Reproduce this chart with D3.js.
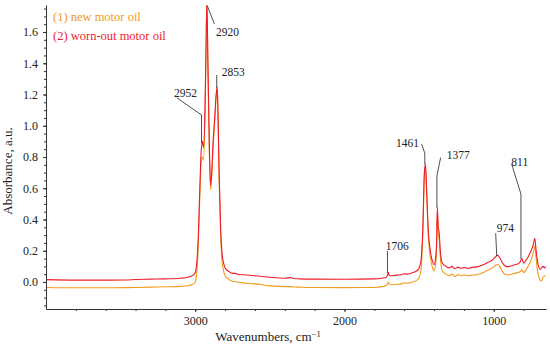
<!DOCTYPE html>
<html>
<head>
<meta charset="utf-8">
<script src="https://cdn.jsdelivr.net/npm/d3@7"></script>
<style>
  body { margin: 0; background: #fff; }
  svg text { font-family: "Liberation Serif", "Times New Roman", serif; fill: #222; }
  .axis path, .axis line { stroke: #333; }
</style>
</head>
<body>
<svg id="chart" width="550" height="347"></svg>
<script>
// wavenumbers (cm-1) shared by both spectra
const wavenumbers = [4000,3800,3600,3466,3400,3300,3200,3100,3050,3020,3000,2990,2980,2970,2960,2952,2945,2935,2928,2922,2915,2905,2897,2890,2880,2870,2860,2853,2848,2840,2830,2820,2810,2800,2780,2750,2730,2710,2680,2600,2500,2400,2360,2340,2300,2200,2000,1800,1750,1720,1712,1706,1700,1680,1650,1620,1600,1580,1550,1510,1490,1475,1465,1458,1450,1440,1425,1410,1400,1390,1383,1378,1372,1366,1358,1345,1320,1300,1280,1260,1240,1220,1200,1170,1150,1100,1070,1040,1010,990,974,960,940,920,900,880,860,840,825,811,800,790,770,750,735,725,718,710,700,690,680,670,660,650];

// (1) new motor oil
const newOil = [-0.035,-0.037,-0.037,-0.036,-0.035,-0.033,-0.031,-0.028,-0.024,-0.016,0.000,0.060,0.230,0.530,0.770,0.800,0.780,1.050,1.450,1.790,1.350,0.800,0.590,0.670,0.870,1.020,1.180,1.240,1.080,0.660,0.300,0.130,0.070,0.040,0.020,0.005,0.002,-0.002,-0.006,-0.012,-0.025,-0.030,-0.030,-0.032,-0.033,-0.035,-0.036,-0.035,-0.030,-0.022,-0.012,0.000,-0.015,-0.018,-0.015,-0.012,-0.006,-0.008,-0.002,0.015,0.060,0.320,0.680,0.735,0.580,0.320,0.160,0.090,0.070,0.110,0.220,0.440,0.310,0.280,0.160,0.070,0.050,0.040,0.050,0.035,0.048,0.040,0.045,0.040,0.042,0.050,0.060,0.075,0.090,0.105,0.112,0.100,0.065,0.048,0.045,0.050,0.055,0.060,0.065,0.078,0.060,0.070,0.100,0.140,0.190,0.230,0.170,0.090,0.040,0.012,0.006,0.030,0.040,0.035];

// (2) worn-out motor oil
const wornOil = [0.015,0.012,0.012,0.013,0.016,0.018,0.020,0.024,0.030,0.040,0.060,0.120,0.280,0.580,0.840,0.900,0.860,1.100,1.500,1.790,1.400,0.850,0.620,0.700,0.900,1.050,1.200,1.250,1.100,0.700,0.350,0.180,0.120,0.090,0.070,0.055,0.055,0.048,0.046,0.040,0.030,0.024,0.028,0.022,0.020,0.018,0.017,0.020,0.024,0.030,0.045,0.062,0.040,0.040,0.044,0.046,0.052,0.050,0.058,0.075,0.120,0.350,0.700,0.755,0.600,0.350,0.200,0.130,0.110,0.150,0.250,0.480,0.350,0.320,0.200,0.120,0.100,0.090,0.100,0.085,0.095,0.088,0.092,0.088,0.092,0.100,0.110,0.125,0.140,0.160,0.170,0.155,0.120,0.100,0.098,0.104,0.110,0.115,0.125,0.150,0.120,0.130,0.160,0.200,0.240,0.280,0.220,0.150,0.100,0.080,0.090,0.100,0.090,0.100];

const seriesNames = ["(1) new motor oil", "(2) worn-out motor oil"];
const seriesColors = ["#f29a1c", "#ee1c2a"];

const yTicks = [0, 0.2, 0.4, 0.6, 0.8, 1.0, 1.2, 1.4, 1.6];
const xTicks = [3000, 2000, 1000];

// peak labels: text, label anchor [wn, abs], leader points [wn, abs]
const peakLabels = ["2952", "2920", "2853", "1706", "1461", "1377", "974", "811"];
const labelAnchors = [[3142, 1.184], [2861, 1.575], [2823, 1.319], [1724, 0.205], [1501, 0.866], [1315, 0.787], [980, 0.318], [882, 0.745]];
const labelAlign = ["start", "start", "start", "start", "end", "start", "start", "start"];
const leaders = [
  [[3122, 1.178], [2958, 1.069], [2958, 0.89]],
  [[2919, 1.767], [2872, 1.652]],
  [[2856, 1.325], [2856, 1.242]],
  [[1712, 0.198], [1712, 0.058]],
  [[1483, 0.882], [1462, 0.824], [1462, 0.752]],
  [[1356, 0.796], [1381, 0.679], [1381, 0.476]],
  [[987, 0.312], [980, 0.166]],
  [[880, 0.754], [818, 0.563], [818, 0.148]]
];

const mLeft = 46, mRight = 546, mTop = 5, mBottom = 309;

const svg = d3.select("#chart");

const x = d3.scaleLinear().domain([4000, 650]).range([mLeft, mRight]);
const y = d3.scaleLinear().domain([-0.173, 1.773]).range([mBottom, mTop]);

svg.append("clipPath").attr("id", "plot-clip")
  .append("rect")
  .attr("x", mLeft).attr("y", mTop)
  .attr("width", mRight - mLeft).attr("height", mBottom - mTop);

const line = d3.line()
  .x(d => x(d[0]))
  .y(d => y(d[1]))
  .curve(d3.curveMonotoneX);

[newOil, wornOil].forEach((vals, i) => {
  svg.append("path")
    .datum(wavenumbers.map((w, j) => [w, vals[j]]))
    .attr("clip-path", "url(#plot-clip)")
    .attr("fill", "none")
    .attr("stroke", seriesColors[i])
    .attr("stroke-width", 1.1)
    .attr("d", line);
});

// x axis: major ticks + minor every 200
const xMinor = d3.range(3800, 650, -200);
svg.append("g").attr("class", "axis")
  .attr("transform", `translate(0,${mBottom})`)
  .call(d3.axisBottom(x).tickValues(xMinor).tickSize(2).tickFormat(""))
  .call(g => g.select(".domain").remove());
svg.append("g").attr("class", "axis")
  .attr("transform", `translate(0,${mBottom})`)
  .call(d3.axisBottom(x).tickValues(xTicks).tickSize(3).tickSizeOuter(0).tickPadding(4).tickFormat(d3.format("d")))
  .call(g => g.selectAll("text").style("font-size", "12px").attr("fill", "#222"));

// y axis: major ticks + minor every 0.05
const yMinor = d3.range(-0.15, 1.76, 0.05);
svg.append("g").attr("class", "axis")
  .attr("transform", `translate(${mLeft},0)`)
  .call(d3.axisLeft(y).tickValues(yMinor).tickSize(2).tickFormat(""))
  .call(g => g.select(".domain").remove());
svg.append("g").attr("class", "axis")
  .attr("transform", `translate(${mLeft},0)`)
  .call(d3.axisLeft(y).tickValues(yTicks).tickSize(3).tickSizeOuter(0).tickPadding(5).tickFormat(d3.format(".1f")))
  .call(g => g.selectAll("text").style("font-size", "12px").attr("fill", "#222"));

// axis titles
const xt = svg.append("text")
  .attr("x", 268).attr("y", 341)
  .attr("text-anchor", "middle")
  .style("font-size", "13px")
  .text("Wavenumbers, cm");
xt.append("tspan").attr("dy", -4).style("font-size", "8.5px").text("−1");

svg.append("text")
  .attr("transform", "translate(12,171) rotate(-90)")
  .attr("text-anchor", "middle")
  .style("font-size", "13px")
  .text("Absorbance, a.u.");

// legend
seriesNames.forEach((name, i) => {
  svg.append("text")
    .attr("x", 53).attr("y", 21 + i * 18.5)
    .style("font-size", "12.5px")
    .style("fill", seriesColors[i])
    .text(name);
});

// peak annotations
const leaderLine = d3.line().x(d => x(d[0])).y(d => y(d[1]));
leaders.forEach(pts => {
  svg.append("path")
    .attr("d", leaderLine(pts))
    .attr("fill", "none")
    .attr("stroke", "#222")
    .attr("stroke-width", 0.8);
});
peakLabels.forEach((t, i) => {
  svg.append("text")
    .attr("x", x(labelAnchors[i][0]))
    .attr("y", y(labelAnchors[i][1]))
    .attr("text-anchor", labelAlign[i])
    .style("font-size", "11.5px")
    .text(t);
});
</script>
</body>
</html>
